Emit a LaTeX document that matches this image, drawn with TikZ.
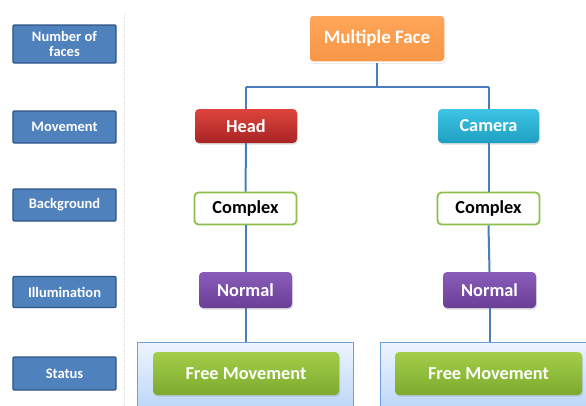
\documentclass[tikz,border=0pt]{standalone}
\usepackage{fontspec}
\setmainfont{Carlito}
\usetikzlibrary{shadows}
\definecolor{lblfill}{HTML}{4F81BD}
\definecolor{lblborder}{HTML}{2F5587}
\definecolor{conn}{HTML}{4A7EBB}
\definecolor{orangeA}{HTML}{FFA65A}
\definecolor{orangeB}{HTML}{F79646}
\definecolor{redA}{HTML}{DE443C}
\definecolor{redB}{HTML}{A82424}
\definecolor{cyanA}{HTML}{3FC4E6}
\definecolor{cyanB}{HTML}{1E9FC2}
\definecolor{purpA}{HTML}{8A5CBA}
\definecolor{purpB}{HTML}{6A3F96}
\definecolor{greenA}{HTML}{A2CE48}
\definecolor{greenB}{HTML}{7DAA2E}
\definecolor{cplxborder}{HTML}{8CC04A}
\definecolor{panelA}{HTML}{EEF5FE}
\definecolor{panelB}{HTML}{B9D5F7}
\definecolor{panelborder}{HTML}{6F9FD8}
\begin{document}
\begin{tikzpicture}[x=1bp,y=-1bp,
  lbl/.style={draw=lblborder, line width=1.2bp, fill=lblfill, text=white,
    font=\bfseries\fontsize{14.5bp}{15bp}\selectfont, minimum width=103bp,
    align=center, inner sep=0, rounded corners=1bp},
  box/.style={rounded corners=4bp, text=white, inner sep=0,
    font=\bfseries\fontsize{18.3bp}{18bp}\selectfont,
    drop shadow={opacity=0.25, shadow xshift=1bp, shadow yshift=-1.5bp}},
  cplx/.style={draw=cplxborder, line width=1.8bp, fill=white, rounded corners=4bp,
    text=black, inner sep=0, font=\bfseries\fontsize{18.3bp}{18bp}\selectfont,
    minimum width=102bp, minimum height=32bp},
  panel/.style={draw=panelborder, line width=0.8bp, top color=panelA, bottom color=panelB,
    inner sep=0, anchor=north west},
  link/.style={draw=conn, line width=2bp}
]
\useasboundingbox (0,0) rectangle (586,405);
\clip (0,0) rectangle (586,405);
\fill[white] (0,0) rectangle (586,405);

% separator
\draw[black!12, line width=0.8bp, densely dotted] (124,13) -- (124,405);

% left labels
\node[lbl, minimum height=38bp] (l1) at (64.5,44) {Number of\\faces};
\node[lbl, minimum height=32bp] (l2) at (64.5,127) {Movement};
\node[lbl, minimum height=32bp] (l3) at (64.5,205) {Background};
\node[lbl, minimum height=31bp] (l4) at (64.5,292) {Illumination};
\node[lbl, minimum height=33bp] (l5) at (64.5,373.5) {Status};

% status panels
\node[panel, minimum width=216bp, minimum height=70bp] (p1) at (137,342) {};
\node[panel, minimum width=216bp, minimum height=70bp] (p2) at (380,342) {};

% top node
\node[box, draw=white, line width=1.5bp, top color=orangeA, bottom color=orangeB,
  minimum width=136bp, minimum height=47bp, font=\bfseries\fontsize{19bp}{19bp}\selectfont] (mf) at (377,38.5) {Multiple Face};

\node[box, top color=redA, bottom color=redB, minimum width=102bp, minimum height=34bp] (head) at (246,126) {Head};
\node[box, top color=cyanA, bottom color=cyanB, minimum width=101bp, minimum height=34bp] (cam) at (488.5,126) {Camera};

\node[cplx] (c1) at (245.5,208.5) {Complex};
\node[cplx] (c2) at (488.5,208.5) {Complex};

\node[box, top color=purpA, bottom color=purpB, minimum width=93bp, minimum height=36bp] (n1) at (245.5,290) {Normal};
\node[box, top color=purpA, bottom color=purpB, minimum width=93bp, minimum height=36bp] (n2) at (489.5,290) {Normal};

\node[box, top color=greenA, bottom color=greenB, minimum width=186bp, minimum height=43bp] (f1) at (246,373.5) {Free Movement};
\node[box, top color=greenA, bottom color=greenB, minimum width=187bp, minimum height=43bp] (f2) at (488.5,373.5) {Free Movement};

% connectors
\coordinate (j) at (377,87);
\coordinate (jl) at (head.north |- j);
\coordinate (jr) at (cam.north |- j);
\draw[link] (mf.south) -- (j);
\draw[link] (jl) -- (jr);
\draw[link] (jl) -- (head.north);
\draw[link] (jr) -- (cam.north);
\draw[link] (head.south) -- (c1.north);
\draw[link] (c1.south) -- (n1.north);
\draw[link] (n1.south) -- (n1.south |- p1.north);
\draw[link] (cam.south) -- (c2.north);
\draw[link] (c2.south) -- (n2.north);
\draw[link] (n2.south) -- (n2.south |- p2.north);
\end{tikzpicture}
\end{document}
